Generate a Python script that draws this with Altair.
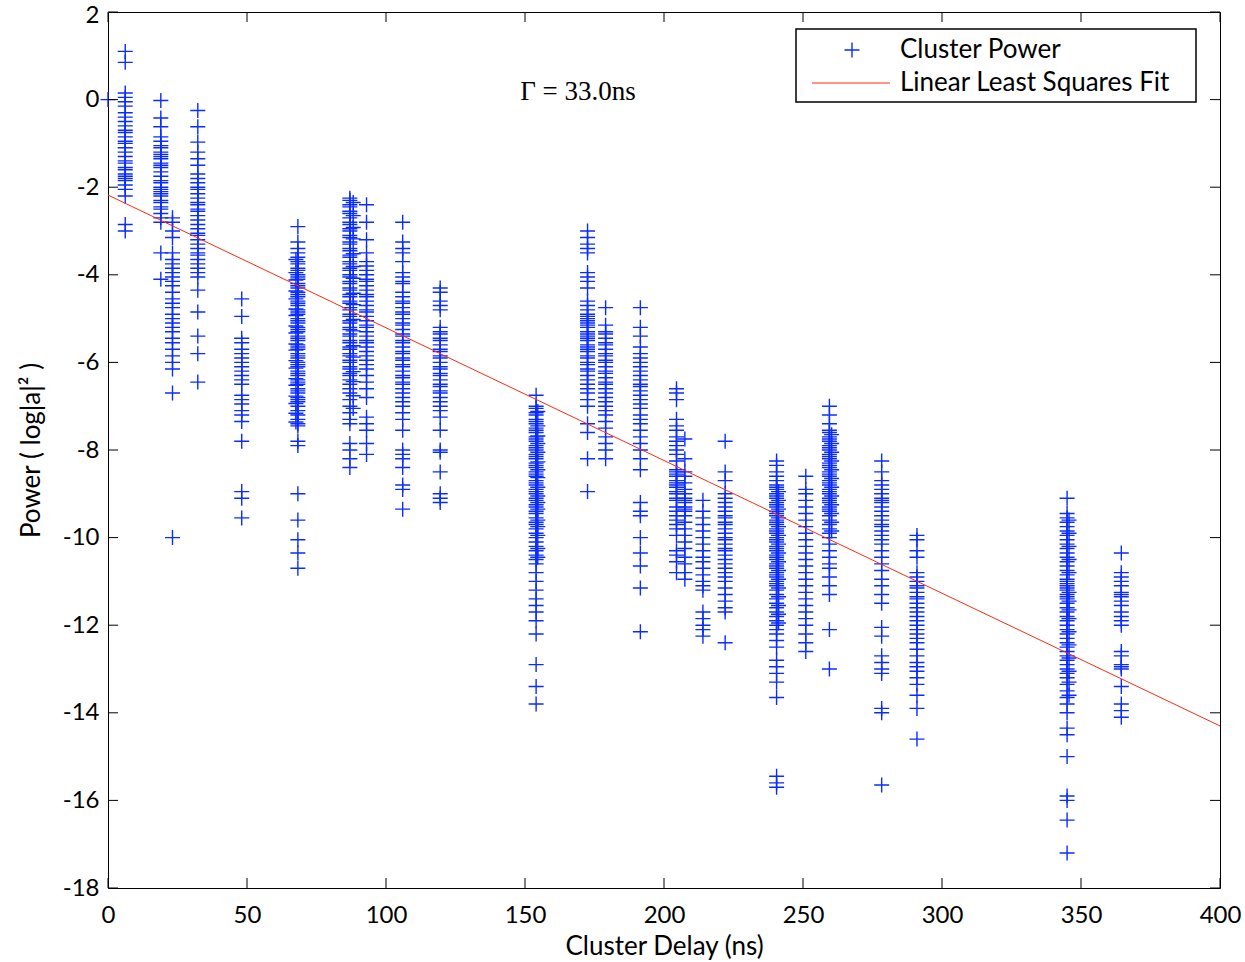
import altair as alt
import pandas as pd

# ---------------- data ----------------
x_ticks = [0, 50, 100, 150, 200, 250, 300, 350, 400]
y_ticks = [-18, -16, -14, -12, -10, -8, -6, -4, -2, 0, 2]

c000 = [0.0]
c006 = [1.1, 0.85, 0.15, 0.05, -0.05, -0.15, -0.3, -0.4, -0.5, -0.6, -0.7, -0.75, -0.85,
        -0.95, -1.0, -1.1, -1.2, -1.3, -1.4, -1.45, -1.55, -1.6, -1.7, -1.75, -1.8, -1.85,
        -1.95, -2.05, -2.2, -2.85, -3.0]
c019 = [-0.02, -0.42, -0.62, -0.85, -0.95, -1.05, -1.1, -1.2, -1.25, -1.3, -1.35, -1.45,
        -1.5, -1.55, -1.65, -1.75, -1.85, -1.9, -2.0, -2.05, -2.1, -2.15, -2.2, -2.3,
        -2.35, -2.45, -2.5, -2.6, -2.7, -2.8, -3.5, -4.1]
c023 = [-2.7, -2.8, -3.0, -3.15, -3.5, -3.65, -3.75, -3.85, -3.95, -4.05, -4.15, -4.25,
        -4.4, -4.55, -4.65, -4.75, -4.9, -5.0, -5.1, -5.2, -5.3, -5.45, -5.55, -5.7,
        -5.85, -6.0, -6.15, -6.7, -10.0]
c032 = [-0.25, -0.62, -0.97, -1.2, -1.35, -1.5, -1.7, -1.8, -1.9, -2.0, -2.05, -2.15,
        -2.25, -2.35, -2.4, -2.5, -2.55, -2.65, -2.75, -2.85, -2.95, -3.05, -3.1, -3.2,
        -3.3, -3.4, -3.5, -3.55, -3.65, -3.75, -3.85, -3.95, -4.05, -4.35, -4.85, -5.4,
        -5.8, -6.45]
c048 = [-4.55, -4.95, -5.45, -5.55, -5.7, -5.8, -5.9, -6.0, -6.1, -6.2, -6.3, -6.4, -6.5,
        -6.75, -6.85, -6.95, -7.1, -7.2, -7.35, -7.8, -8.95, -9.1, -9.55]
c068 = [-2.9, -3.25, -3.4, -3.5, -3.6, -3.7, -3.75, -3.85, -3.9, -4.0, -4.05, -4.1, -4.2,
        -4.25, -4.3, -4.4, -4.45, -4.5, -4.6, -4.65, -4.7, -4.8, -4.85, -4.9, -5.0, -5.05,
        -5.1, -5.2, -5.25, -5.3, -5.4, -5.45, -5.5, -5.6, -5.65, -5.7, -5.8, -5.85, -5.9,
        -6.0, -6.05, -6.1, -6.2, -6.25, -6.3, -6.4, -6.45, -6.5, -6.6, -6.65, -6.7, -6.8,
        -6.85, -6.9, -7.0, -7.1, -7.2, -7.3, -7.4, -7.45, -7.8, -7.9, -9.0, -9.6, -10.05,
        -10.35, -10.7]
c068b = [-3.65, -3.95, -4.12, -4.37, -4.55, -4.78, -4.93, -5.17, -5.33, -5.58, -5.72,
         -5.96, -6.13, -6.37, -6.52, -6.77, -6.94, -7.16, -7.36]
c087 = [-2.25, -2.3, -2.4, -2.45, -2.55, -2.6, -2.7, -2.8, -2.85, -2.95, -3.0, -3.1,
        -3.15, -3.25, -3.3, -3.4, -3.45, -3.55, -3.6, -3.7, -3.75, -3.85, -3.9, -4.0,
        -4.05, -4.15, -4.2, -4.3, -4.35, -4.45, -4.5, -4.6, -4.65, -4.75, -4.8, -4.9,
        -4.95, -5.05, -5.1, -5.2, -5.25, -5.35, -5.4, -5.5, -5.55, -5.65, -5.7, -5.8,
        -5.85, -5.95, -6.0, -6.1, -6.15, -6.25, -6.3, -6.4, -6.5, -6.6, -6.7, -6.85, -7.0,
        -7.15, -7.3, -7.4, -7.85, -8.0, -8.2, -8.4]
c087b = [-2.35, -2.65, -2.92, -3.18, -3.52, -3.81, -4.08, -4.42, -4.68, -5.02, -5.28,
         -5.62, -5.88, -6.21, -6.44, -6.76, -7.05]
c093 = [-2.4, -2.8, -3.2, -3.5, -3.7, -3.8, -3.9, -4.0, -4.1, -4.15, -4.25, -4.35, -4.45,
        -4.5, -4.6, -4.7, -4.8, -4.85, -4.95, -5.05, -5.15, -5.2, -5.3, -5.4, -5.5, -5.55,
        -5.65, -5.75, -5.85, -5.95, -6.05, -6.15, -6.3, -6.45, -6.6, -6.8, -7.25, -7.4,
        -7.55, -7.85, -8.1]
c106 = [-2.8, -3.25, -3.4, -3.5, -3.7, -3.95, -4.05, -4.15, -4.2, -4.4, -4.5, -4.6, -4.65,
        -4.75, -4.85, -4.9, -5.0, -5.1, -5.15, -5.25, -5.35, -5.4, -5.5, -5.55, -5.65,
        -5.75, -5.8, -5.9, -5.95, -6.05, -6.1, -6.2, -6.3, -6.35, -6.45, -6.5, -6.6, -6.7,
        -6.8, -6.9, -7.0, -7.15, -7.3, -7.55, -8.0, -8.1, -8.2, -8.4, -8.8, -8.9, -9.35]
c119 = [-4.3, -4.4, -4.6, -4.7, -4.8, -5.2, -5.3, -5.35, -5.45, -5.5, -5.6, -5.7, -5.75,
        -5.85, -5.9, -6.0, -6.1, -6.15, -6.25, -6.3, -6.4, -6.5, -6.55, -6.65, -6.7, -6.8,
        -6.9, -7.0, -7.1, -7.25, -7.55, -8.0, -8.05, -8.5, -9.0, -9.1, -9.2]
c154 = [-6.75, -7.0, -7.05, -7.15, -7.2, -7.3, -7.35, -7.4, -7.5, -7.55, -7.6, -7.7,
        -7.75, -7.8, -7.9, -7.95, -8.0, -8.1, -8.15, -8.2, -8.3, -8.35, -8.4, -8.5, -8.55,
        -8.6, -8.7, -8.75, -8.8, -8.9, -8.95, -9.0, -9.1, -9.15, -9.25, -9.3, -9.4, -9.45,
        -9.55, -9.65, -9.7, -9.8, -9.9, -10.0, -10.1, -10.2, -10.3, -10.4, -10.5, -10.6,
        -10.8, -11.0, -11.2, -11.4, -11.55, -11.7, -11.9, -12.2, -12.9, -13.4, -13.8]
c154b = [-7.12, -7.45, -7.68, -7.85, -8.05, -8.27, -8.45, -8.63, -8.85, -9.05, -9.2,
         -9.35, -9.6, -9.75, -9.95, -10.25, -10.45]
c172 = [-3.0, -3.15, -3.3, -3.4, -3.5, -3.95, -4.05, -4.15, -4.3, -4.6, -4.7, -4.8, -4.9,
        -4.95, -5.0, -5.05, -5.1, -5.15, -5.2, -5.3, -5.35, -5.4, -5.45, -5.5, -5.6, -5.65,
        -5.7, -5.75, -5.85, -5.9, -6.0, -6.05, -6.15, -6.2, -6.3, -6.4, -6.5, -6.6, -6.7,
        -6.85, -7.0, -7.4, -7.6, -8.2, -8.95]
c179 = [-4.75, -5.15, -5.3, -5.35, -5.45, -5.55, -5.6, -5.7, -5.8, -5.85, -5.95, -6.0,
        -6.1, -6.2, -6.25, -6.35, -6.45, -6.5, -6.6, -6.7, -6.8, -6.9, -7.0, -7.1, -7.2,
        -7.35, -7.5, -7.7, -7.85, -8.0, -8.2]
c191 = [-4.75, -5.2, -5.4, -5.65, -5.8, -5.9, -6.0, -6.1, -6.2, -6.3, -6.4, -6.5, -6.55,
        -6.65, -6.75, -6.85, -6.95, -7.05, -7.2, -7.3, -7.4, -7.55, -7.7, -7.85, -8.0,
        -8.2, -8.45, -9.2, -9.4, -9.5, -10.0, -10.35, -10.65, -11.15, -12.15]
c204 = [-6.6, -6.7, -6.85, -7.3, -7.45, -7.55, -7.7, -7.8, -7.9, -8.0, -8.1, -8.25, -8.45,
        -8.5, -8.55, -8.6, -8.7, -8.75, -8.8, -8.85, -8.95, -9.0, -9.1, -9.15, -9.3, -9.4,
        -9.5, -9.6, -9.7, -9.8, -9.95, -10.3, -10.4, -10.55, -10.8]
c207 = [-7.75, -8.2, -8.5, -8.6, -8.75, -8.9, -9.0, -9.1, -9.15, -9.2, -9.3, -9.35, -9.4,
        -9.5, -9.65, -9.8, -9.95, -10.1, -10.25, -10.45, -10.6, -10.8, -10.95]
c214 = [-9.15, -9.4, -9.55, -9.7, -9.85, -10.0, -10.15, -10.3, -10.45, -10.55, -10.7,
        -10.85, -11.0, -11.1, -11.2, -11.7, -11.85, -12.0, -12.1, -12.25]
c222 = [-7.8, -8.5, -8.7, -9.0, -9.1, -9.2, -9.3, -9.4, -9.5, -9.55, -9.65, -9.7, -9.8,
        -9.9, -10.0, -10.05, -10.15, -10.25, -10.3, -10.4, -10.5, -10.6, -10.7, -10.8,
        -10.9, -11.0, -11.15, -11.3, -11.45, -11.6, -11.7, -12.4]
c240 = [-8.25, -8.35, -8.5, -8.6, -8.7, -8.8, -8.85, -8.9, -9.0, -9.05, -9.1, -9.2, -9.25,
        -9.3, -9.4, -9.45, -9.5, -9.6, -9.65, -9.7, -9.8, -9.85, -9.9, -10.0, -10.05,
        -10.1, -10.2, -10.25, -10.3, -10.4, -10.45, -10.5, -10.6, -10.65, -10.7, -10.8,
        -10.85, -10.9, -11.0, -11.05, -11.1, -11.2, -11.3, -11.4, -11.5, -11.6, -11.7,
        -11.8, -11.9, -12.0, -12.1, -12.2, -12.35, -12.5, -12.8, -12.95, -13.1, -13.3,
        -13.65, -15.45, -15.6, -15.7]
c240b = [-8.95, -9.15, -9.35, -9.55, -9.75, -9.95, -10.15, -10.35, -10.55, -10.75,
         -10.95, -11.15, -11.35, -11.55, -11.75, -11.95]
c251 = [-8.6, -8.9, -9.0, -9.15, -9.3, -9.45, -9.6, -9.75, -9.9, -10.05, -10.2, -10.35,
        -10.5, -10.65, -10.8, -10.95, -11.1, -11.25, -11.4, -11.55, -11.7, -11.85, -12.0,
        -12.2, -12.4, -12.6]
c259 = [-7.0, -7.2, -7.4, -7.55, -7.6, -7.7, -7.75, -7.8, -7.9, -7.95, -8.0, -8.1, -8.15,
        -8.2, -8.3, -8.35, -8.4, -8.5, -8.55, -8.6, -8.7, -8.75, -8.8, -8.9, -8.95, -9.0,
        -9.1, -9.15, -9.2, -9.3, -9.35, -9.4, -9.5, -9.6, -9.7, -9.8, -9.9, -10.0, -10.15,
        -10.3, -10.45, -10.6, -10.7, -10.9, -11.1, -11.3, -12.1, -13.0]
c259b = [-7.65, -7.85, -8.05, -8.25, -8.45, -8.65, -8.85, -9.05, -9.25, -9.45, -9.65,
         -9.85]
c278 = [-8.25, -8.5, -8.7, -8.8, -8.9, -9.0, -9.1, -9.15, -9.2, -9.3, -9.4, -9.5, -9.6,
        -9.7, -9.75, -9.85, -9.95, -10.05, -10.15, -10.3, -10.45, -10.6, -10.75, -10.95,
        -11.1, -11.3, -11.5, -12.05, -12.25, -12.7, -12.85, -13.0, -13.1, -13.9, -14.0,
        -15.65]
c291 = [-9.95, -10.05, -10.3, -10.45, -10.8, -10.9, -11.0, -11.1, -11.15, -11.25, -11.35,
        -11.4, -11.5, -11.6, -11.7, -11.8, -11.9, -12.0, -12.1, -12.2, -12.3, -12.4, -12.55,
        -12.7, -12.85, -12.95, -13.05, -13.2, -13.35, -13.6, -13.9, -14.6]
c345 = [-9.1, -9.45, -9.55, -9.65, -9.75, -9.85, -9.95, -10.05, -10.15, -10.25, -10.35,
        -10.45, -10.55, -10.65, -10.75, -10.85, -10.95, -11.0, -11.05, -11.1, -11.15, -11.2,
        -11.3, -11.35, -11.4, -11.5, -11.6, -11.7, -11.8, -11.9, -12.0, -12.1, -12.2, -12.3,
        -12.4, -12.5, -12.6, -12.7, -12.8, -12.9, -13.0, -13.1, -13.2, -13.35, -13.5,
        -13.65, -13.8, -14.0, -14.35, -14.5, -15.0, -15.9, -16.0, -16.45, -17.2]
c345b = [-9.6, -9.9, -10.2, -10.5, -10.8, -11.25, -11.45, -11.65, -11.85, -12.15, -12.45,
         -12.75, -13.05, -13.3, -13.6]
c364 = [-10.35, -10.8, -10.9, -11.0, -11.1, -11.25, -11.3, -11.35, -11.45, -11.55, -11.7,
        -11.8, -11.9, -12.0, -12.6, -12.7, -12.9, -12.95, -13.0, -13.4, -13.8, -13.95, -14.1]

cluster_delays = [0.0, 6.2, 19.0, 23.2, 32.3, 48.1, 68.3, 67.6, 87.0, 88.2, 93.0, 106.0,
                  119.5, 154.0, 154.6, 172.5, 179.0, 191.5, 204.5, 207.5, 214.0, 222.0,
                  240.5, 241.2, 251.0, 259.5, 260.3, 278.3, 291.0, 345.0, 345.7, 364.5]
cluster_powers = [c000, c006, c019, c023, c032, c048, c068, c068b, c087, c087b, c093, c106,
                  c119, c154, c154b, c172, c179, c191, c204, c207, c214, c222,
                  c240, c240b, c251, c259, c259b, c278, c291, c345, c345b, c364]

fit_x = [0, 400]
fit_y = [-2.18, -14.3]

legend_labels = ["Cluster Power", "Linear Least Squares Fit"]
annotation = "Γ = 33.0ns"

# ---------------- tables ----------------
rows = []
for d, ps in zip(cluster_delays, cluster_powers):
    for p in ps:
        rows.append({"delay": d, "power": p})
pts_df = pd.DataFrame(rows)
fit_df = pd.DataFrame({"delay": fit_x, "power": fit_y})
xt_df = pd.DataFrame({"t": x_ticks})
yt_df = pd.DataFrame({"t": y_ticks})
one = pd.DataFrame({"a": [0]})

# ---------------- styling ----------------
W, H = 1112, 876
BLUE = "#0a2cff"
RED = "#ff2a10"
CROSS = "M-1,0L1,0M0,-1L0,1"
FONT = "Lato"
LABEL_EXPR = "datum.value < 0 ? '-' + abs(datum.value) : '' + datum.value"

xs = alt.Scale(domain=[0, 400], nice=False, zero=False)
ys = alt.Scale(domain=[-18, 2], nice=False, zero=False)

points = alt.Chart(pts_df).mark_point(
    shape=CROSS, filled=False, size=225, strokeWidth=1.4, color=BLUE, opacity=1
).encode(
    x=alt.X("delay:Q", scale=xs,
            axis=alt.Axis(values=x_ticks, title="Cluster Delay (ns)", labelPadding=15,
                          titlePadding=6, labelExpr=LABEL_EXPR, labelFlush=False)),
    y=alt.Y("power:Q", scale=ys,
            axis=alt.Axis(values=y_ticks, title="Power ( log|a|² )", labelPadding=9,
                          titlePadding=18, labelExpr=LABEL_EXPR, labelFlush=False,
                          labelOffset={"condition": {"test": "datum.value == 2", "value": 3},
                                       "value": 0})),
)

fit = alt.Chart(fit_df).mark_line(color=RED, strokeWidth=1).encode(
    x=alt.X("delay:Q", scale=xs), y=alt.Y("power:Q", scale=ys)
)

tick_len = 10
xb = alt.Chart(xt_df).mark_rule(color="black", strokeWidth=1).encode(
    x=alt.X("t:Q", scale=xs), y=alt.value(H), y2=alt.value(H - tick_len))
xtop = alt.Chart(xt_df).mark_rule(color="black", strokeWidth=1).encode(
    x=alt.X("t:Q", scale=xs), y=alt.value(0), y2=alt.value(tick_len))
yl = alt.Chart(yt_df).mark_rule(color="black", strokeWidth=1).encode(
    y=alt.Y("t:Q", scale=ys), x=alt.value(0), x2=alt.value(tick_len))
yr = alt.Chart(yt_df).mark_rule(color="black", strokeWidth=1).encode(
    y=alt.Y("t:Q", scale=ys), x=alt.value(W), x2=alt.value(W - tick_len))

ann = alt.Chart(pd.DataFrame({"t": [annotation]})).mark_text(
    font="Liberation Serif", fontSize=27, align="center", baseline="middle", color="black"
).encode(x=alt.value(470), y=alt.value(80), text="t:N")

leg_box = alt.Chart(one).mark_rect(fill="white", stroke="black", strokeWidth=1.5).encode(
    x=alt.value(688), x2=alt.value(1088), y=alt.value(17), y2=alt.value(90))
leg_pt = alt.Chart(one).mark_point(
    shape=CROSS, filled=False, size=225, strokeWidth=1.4, color=BLUE, opacity=1
).encode(x=alt.value(744), y=alt.value(38))
leg_line = alt.Chart(one).mark_rule(color=RED, strokeWidth=1).encode(
    x=alt.value(704), x2=alt.value(782), y=alt.value(71))
leg_t1 = alt.Chart(pd.DataFrame({"t": [legend_labels[0]]})).mark_text(
    font=FONT, fontSize=26, align="left", baseline="middle", color="black"
).encode(x=alt.value(792), y=alt.value(38), text="t:N")
leg_t2 = alt.Chart(pd.DataFrame({"t": [legend_labels[1]]})).mark_text(
    font=FONT, fontSize=26, align="left", baseline="middle", color="black"
).encode(x=alt.value(792), y=alt.value(71), text="t:N")

chart = alt.layer(
    points, fit, xb, xtop, yl, yr, ann, leg_box, leg_pt, leg_line, leg_t1, leg_t2
).properties(
    width=W, height=H,
    autosize=alt.AutoSizeParams(type="none"),
    padding={"left": 108, "top": 12, "right": 25, "bottom": 74},
    background="white",
).configure_view(
    stroke="black", strokeWidth=1
).configure_axis(
    labelFont=FONT, labelFontSize=24, labelColor="black",
    titleFont=FONT, titleFontSize=26, titleFontWeight="normal", titleColor="black",
    ticks=False, domain=False, grid=False,
)

chart.save("out.html", embed_options={"renderer": "svg", "actions": False})
